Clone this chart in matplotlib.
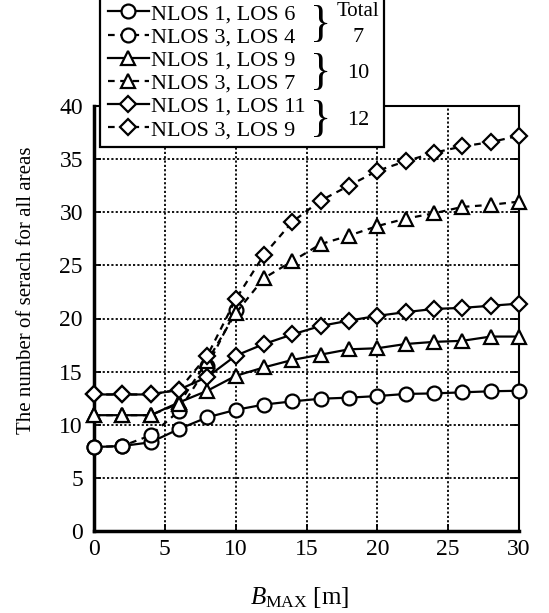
import numpy as np
import matplotlib
matplotlib.use("Agg")
from matplotlib import pyplot as plt
from matplotlib.patches import Rectangle

plt.rcParams['font.family'] = ['Liberation Serif', 'DejaVu Serif']
plt.rcParams['mathtext.fontset'] = 'custom'
plt.rcParams['mathtext.rm'] = 'Liberation Serif'
plt.rcParams['mathtext.it'] = 'Liberation Serif:italic'

# values
bmax = [0, 2, 4, 6, 8, 10, 12, 14, 16, 18, 20, 22, 24, 26, 28, 30]
n1_los6 = [7.9, 8.0, 8.35, 9.6, 10.7, 11.4, 11.9, 12.2, 12.45, 12.55, 12.7, 12.9, 12.95, 13.05, 13.15, 13.2]
n3_los4 = [7.9, 8.0, 9.0, 11.3, 15.5, 20.8]
n1_los9 = [10.9, 10.9, 10.9, 12.1, 13.2, 14.6, 15.4, 16.1, 16.6, 17.1, 17.2, 17.6, 17.8, 17.9, 18.3, 18.3]
n3_los7 = [10.9, 10.9, 10.9, 12.0, 16.0, 20.5, 23.8, 25.4, 27.0, 27.8, 28.7, 29.4, 29.9, 30.5, 30.7, 31.0]
n1_los11 = [12.85, 12.85, 12.85, 13.3, 14.5, 16.5, 17.6, 18.5, 19.3, 19.8, 20.25, 20.6, 20.9, 21.0, 21.2, 21.4]
n3_los9 = [12.85, 12.85, 12.85, 13.3, 16.5, 21.8, 26.0, 29.1, 31.1, 32.5, 33.9, 34.8, 35.6, 36.2, 36.6, 37.2]

labels = ["NLOS 1, LOS 6", "NLOS 3, LOS 4", "NLOS 1, LOS 9",
          "NLOS 3, LOS 7", "NLOS 1, LOS 11", "NLOS 3, LOS 9"]
totals = ["7", "10", "12"]
xticks = [0, 5, 10, 15, 20, 25, 30]
yticks = [0, 5, 10, 15, 20, 25, 30, 35, 40]

fig = plt.figure(figsize=(5.49, 6.13), dpi=100)
ax = fig.add_axes([94/549, 1-531/613, (519-94)/549, (531-106)/613])

dash = (0, (3, 2.5))
series = [(n1_los6, 'o', '-'), (n3_los4, 'o', dash),
          (n1_los9, '^', '-'), (n3_los7, '^', dash),
          (n1_los11, 'D', '-'), (n3_los9, 'D', dash)]
handles = []
for (vals, mk, ls), lab in zip(series, labels):
    ms = 8.5 if mk == 'D' else 10
    h, = ax.plot(bmax[:len(vals)], vals, color='black', linestyle=ls, linewidth=1.6,
                 marker=mk, markersize=ms, markerfacecolor='white',
                 markeredgecolor='black', markeredgewidth=1.6, label=lab, clip_on=False, zorder=3)
    handles.append(h)

ax.set_xlim(0, 30)
ax.set_ylim(0, 40)
ax.set_xticks(xticks)
ax.set_yticks(yticks)
ax.grid(True, color='black', linestyle=(0, (1.2, 1.2)), linewidth=1.3)
ax.tick_params(direction='in', length=5, width=1.3, labelsize=17, top=False, right=True)
ax.tick_params(axis='x', pad=6)
ax.tick_params(axis='y', pad=8)
for s in ax.spines.values():
    s.set_linewidth(1.5)
ax.spines['left'].set_linewidth(2.5)
ax.spines['bottom'].set_linewidth(2.5)

fig.text(27/549, 1-290/613, "The number of serach for all areas", rotation=90,
         ha='center', va='center', fontsize=15)
fig.text(300/549, 1-597/613, r"$B_{\rm MAX}$ [m]", ha='center', va='center', fontsize=18)

# legend box
box = Rectangle((100/549, 1-147/613), (384-100)/549, 147/613 + 0.01, transform=fig.transFigure,
                facecolor='white', edgecolor='black', linewidth=1.6, zorder=3)
fig.patches.append(box)
leg = fig.legend(handles=handles, loc='upper left', bbox_to_anchor=(92/549, 1 + 12/613),
                 frameon=False, fontsize=16, handlelength=1.85, handletextpad=0.1,
                 labelspacing=0.12, borderpad=0.2)
leg.set_zorder(5)
num_y = [37, 73, 120]
brace_y = [25, 73, 120]
for t, ny, by in zip(totals, num_y, brace_y):
    fig.text(321/549, 1-by/613, "}", fontsize=32, ha='center', va='center', zorder=6)
    fig.text(358/549, 1-ny/613, t, fontsize=16, ha='center', va='center', zorder=6)
fig.text(358/549, 1-12/613, "Total", fontsize=15, ha='center', va='center', zorder=6)

fig.savefig("out.png", dpi=100)
